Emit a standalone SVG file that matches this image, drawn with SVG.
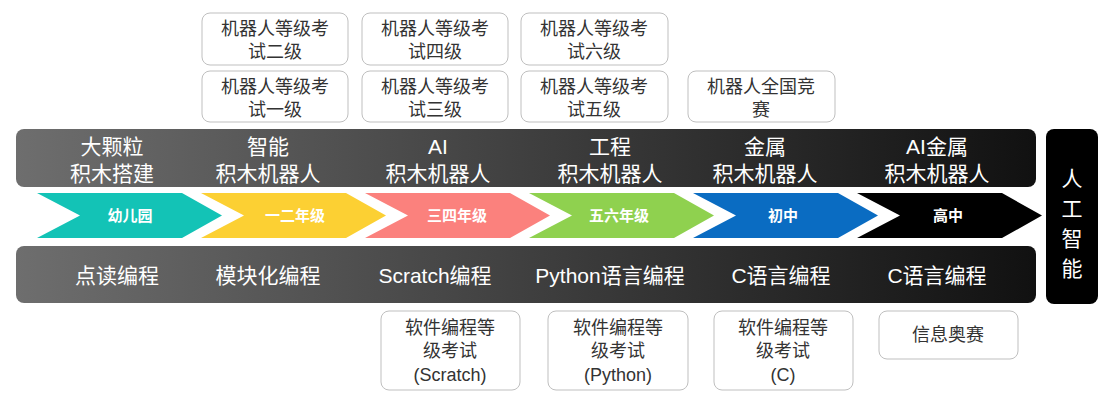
<svg xmlns="http://www.w3.org/2000/svg" width="1117" height="400" viewBox="0 0 1117 400">
<defs>
<linearGradient id="g" x1="0" x2="1" y1="0" y2="0"><stop offset="0" stop-color="#6e6e6e"/><stop offset="1" stop-color="#111"/></linearGradient>
<style>
.t{font-family:"Liberation Sans","Noto Sans CJK SC",sans-serif;fill:#fff;font-size:21px;text-anchor:middle}
.c{font-family:"Noto Sans CJK SC",sans-serif;fill:#fff;font-size:15px;font-weight:bold;text-anchor:middle}
.b{fill:#fff;stroke:#bfbfbf;stroke-width:1}
.k{font-family:"Liberation Sans","Noto Sans CJK SC",sans-serif;fill:#333;font-size:18px;text-anchor:middle}
</style>
</defs>
<g id="top-bar"><rect x="16" y="129" width="1020" height="58" rx="8" fill="url(#g)"/>
<text class="t" x="112" y="154">大颗粒</text><text class="t" x="112" y="181">积木搭建</text>
<text class="t" x="268" y="154">智能</text><text class="t" x="268" y="181">积木机器人</text>
<text class="t" x="438" y="154">AI</text><text class="t" x="438" y="181">积木机器人</text>
<text class="t" x="610" y="154">工程</text><text class="t" x="610" y="181">积木机器人</text>
<text class="t" x="765" y="154">金属</text><text class="t" x="765" y="181">积木机器人</text>
<text class="t" x="937" y="154">AI金属</text><text class="t" x="937" y="181">积木机器人</text></g>
<g id="bottom-bar"><rect x="16" y="246" width="1020" height="57" rx="8" fill="url(#g)"/>
<text class="t" x="117" y="283">点读编程</text><text class="t" x="268" y="283">模块化编程</text>
<text class="t" x="435" y="283">Scratch编程</text><text class="t" x="610" y="283">Python语言编程</text>
<text class="t" x="781" y="283">C语言编程</text><text class="t" x="937" y="283">C语言编程</text></g>
<g id="chevrons">
<polygon points="37,193 182,193 222,215.5 182,238 37,238 80,215.5" fill="#13c3b6"/><text class="c" x="130" y="221">幼儿园</text>
<polygon points="201,193 346,193 386,215.5 346,238 201,238 244,215.5" fill="#fcd033"/><text class="c" x="295" y="221">一二年级</text>
<polygon points="365,193 510,193 550,215.5 510,238 365,238 408,215.5" fill="#fb817d"/><text class="c" x="457" y="221">三四年级</text>
<polygon points="529,193 674,193 714,215.5 674,238 529,238 572,215.5" fill="#8fd14f"/><text class="c" x="619" y="221">五六年级</text>
<polygon points="693,193 838,193 878,215.5 838,238 693,238 736,215.5" fill="#0a6cc2"/><text class="c" x="783" y="221">初中</text>
<polygon points="857,193 1002,193 1042,215.5 1002,238 857,238 900,215.5" fill="#000"/><text class="c" x="948" y="221">高中</text>
</g>
<g id="ai"><rect x="1046" y="129" width="52" height="175" rx="8" fill="#000"/>
<text class="t" x="1072" y="186" font-size="23">人</text><text class="t" x="1072" y="216" font-size="23">工</text><text class="t" x="1072" y="246" font-size="23">智</text><text class="t" x="1072" y="276" font-size="23">能</text></g>
<g id="top-boxes">
<rect class="b" x="202" y="13" width="146" height="52" rx="8"/><text class="k" x="275" y="35">机器人等级考</text><text class="k" x="275" y="58">试二级</text>
<rect class="b" x="362" y="13" width="146" height="52" rx="8"/><text class="k" x="435" y="35">机器人等级考</text><text class="k" x="435" y="58">试四级</text>
<rect class="b" x="521" y="13" width="147" height="52" rx="8"/><text class="k" x="594" y="35">机器人等级考</text><text class="k" x="594" y="58">试六级</text>
<rect class="b" x="202" y="71" width="146" height="51" rx="8"/><text class="k" x="275" y="93">机器人等级考</text><text class="k" x="275" y="116">试一级</text>
<rect class="b" x="362" y="71" width="146" height="51" rx="8"/><text class="k" x="435" y="93">机器人等级考</text><text class="k" x="435" y="116">试三级</text>
<rect class="b" x="521" y="71" width="147" height="51" rx="8"/><text class="k" x="594" y="93">机器人等级考</text><text class="k" x="594" y="116">试五级</text>
<rect class="b" x="688" y="71" width="147" height="51" rx="8"/><text class="k" x="761" y="93">机器人全国竞</text><text class="k" x="761" y="116">赛</text>
</g>
<g id="bottom-boxes">
<rect class="b" x="381" y="311" width="139" height="79" rx="8"/><text class="k" x="450" y="334">软件编程等</text><text class="k" x="450" y="357">级考试</text><text class="k" x="450" y="381">(Scratch)</text>
<rect class="b" x="548" y="311" width="140" height="79" rx="8"/><text class="k" x="618" y="334">软件编程等</text><text class="k" x="618" y="357">级考试</text><text class="k" x="618" y="381">(Python)</text>
<rect class="b" x="714" y="311" width="139" height="79" rx="8"/><text class="k" x="783" y="334">软件编程等</text><text class="k" x="783" y="357">级考试</text><text class="k" x="783" y="381">(C)</text>
<rect class="b" x="879" y="311" width="139" height="48" rx="8"/><text class="k" x="948" y="341">信息奥赛</text>
</g>
<g id="connectors"/>
</svg>
